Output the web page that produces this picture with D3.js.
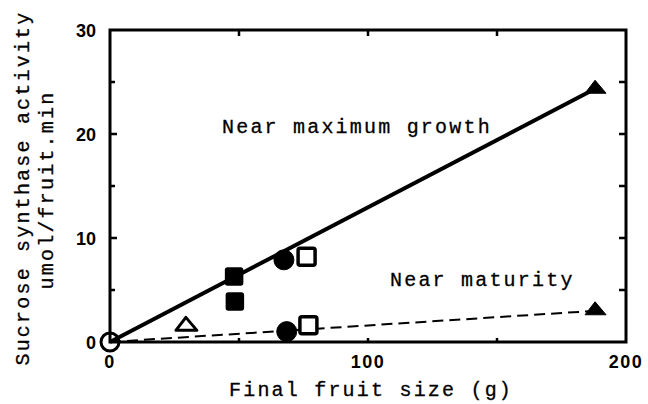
<!DOCTYPE html>
<html>
<head>
<script src="https://d3js.org/d3.v7.min.js"></script>
<style>
  body { margin: 0; background: #fff; }
  .mono { font-family: 'Liberation Mono', 'Courier New', monospace; font-size: 20px; letter-spacing: 2.2px; fill: #000; stroke: #000; stroke-width: 0.3px; }
  .tick-label { font-family: 'Liberation Sans', Arial, sans-serif; font-weight: bold; font-size: 18px; fill: #000; }
</style>
</head>
<body>
<div id="chart"></div>
<script>
// axis ticks
var xTicks = [0, 100, 200];
var yTicks = [0, 10, 20, 30];

// "near maximum growth" points (filled line)
var maxGrowthSolidSquares = [[48.1, 6.3], [48.4, 3.9]];
var maxGrowthSolidCircles = [[67.4, 7.9]];
var maxGrowthOpenSquares = [[76.2, 8.2]];
var maxGrowthTriangles = [[188.4, 24.4]];
var maxGrowthLine = [[0, 0], [188.4, 24.4]];

// "near maturity" points (dashed line)
var maturityOpenTriangles = [[29.8, 1.6]];
var maturitySolidCircles = [[68.5, 1.0]];
var maturityOpenSquares = [[76.9, 1.6]];
var maturityTriangles = [[188.4, 3.1]];
var maturityLine = [[0, 0], [188.4, 3.0]];

var originPoint = [[0, 0]];

var width = 648, height = 404;
var svg = d3.select("#chart").append("svg")
  .attr("width", width).attr("height", height);

var x = d3.scaleLinear().domain([0, 200]).range([110, 626]);
var y = d3.scaleLinear().domain([0, 30]).range([342, 30]);

// frame
svg.append("rect")
  .attr("x", x(0)).attr("y", y(30))
  .attr("width", x(200) - x(0)).attr("height", y(0) - y(30))
  .attr("fill", "none").attr("stroke", "#000").attr("stroke-width", 3);

// inward ticks
var g = svg.append("g").attr("stroke", "#000").attr("stroke-width", 2.5);
d3.range(5, 30, 5).forEach(function (v) {
  var len = v % 10 === 0 ? 7 : 5;
  g.append("line").attr("x1", x(0)).attr("x2", x(0) + len).attr("y1", y(v)).attr("y2", y(v));
  g.append("line").attr("x1", x(200)).attr("x2", x(200) - 7).attr("y1", y(v)).attr("y2", y(v));
});
[50, 100, 150].forEach(function (v) {
  g.append("line").attr("x1", x(v)).attr("x2", x(v)).attr("y1", y(30)).attr("y2", y(30) + 6);
  g.append("line").attr("x1", x(v)).attr("x2", x(v)).attr("y1", y(0)).attr("y2", y(0) - 4);
});

// tick labels
svg.selectAll(".ylab").data(yTicks).enter().append("text")
  .attr("class", "tick-label")
  .attr("x", 96).attr("y", function (d) { return y(d) + 7; })
  .attr("text-anchor", "end")
  .text(function (d) { return d; });
svg.selectAll(".xlab").data(xTicks).enter().append("text")
  .attr("class", "tick-label")
  .attr("x", function (d) { return x(d); }).attr("y", 368)
  .attr("text-anchor", "middle")
  .style("letter-spacing", "1.5px")
  .text(function (d) { return d; });

// axis titles
svg.append("text").attr("class", "mono")
  .attr("x", 229).attr("y", 396)
  .text("Final fruit size (g)");
svg.append("text").attr("class", "mono")
  .attr("transform", "translate(29,188) rotate(-90)")
  .attr("text-anchor", "middle")
  .text("Sucrose synthase activity");
svg.append("text").attr("class", "mono")
  .attr("transform", "translate(53,190) rotate(-90)")
  .attr("text-anchor", "middle")
  .text("umol/fruit.min");

// annotations
svg.append("text").attr("class", "mono").attr("x", 222).attr("y", 133).text("Near maximum growth");
svg.append("text").attr("class", "mono").attr("x", 390).attr("y", 286).text("Near maturity");

// lines
var line = d3.line().x(function (d) { return x(d[0]); }).y(function (d) { return y(d[1]); });
svg.append("path").datum(maxGrowthLine).attr("d", line)
  .attr("fill", "none").attr("stroke", "#000").attr("stroke-width", 4);
svg.append("path").datum(maturityLine).attr("d", line)
  .attr("fill", "none").attr("stroke", "#000").attr("stroke-width", 2)
  .attr("stroke-dasharray", "11,6");

// markers
function squares(data, filled) {
  svg.selectAll(null).data(data).enter().append("rect")
    .attr("x", function (d) { return x(d[0]) - 8.5; })
    .attr("y", function (d) { return y(d[1]) - 8.5; })
    .attr("width", 17).attr("height", 17).attr("rx", 2)
    .attr("fill", filled ? "#000" : "#fff")
    .attr("stroke", "#000").attr("stroke-width", filled ? 1.5 : 3.5);
}
function circles(data, filled, r) {
  svg.selectAll(null).data(data).enter().append("circle")
    .attr("cx", function (d) { return x(d[0]); })
    .attr("cy", function (d) { return y(d[1]); })
    .attr("r", r)
    .attr("fill", filled ? "#000" : "none")
    .attr("stroke", "#000").attr("stroke-width", filled ? 1 : 3);
}
function triangles(data, filled) {
  svg.selectAll(null).data(data).enter().append("path")
    .attr("d", function (d) {
      var cx = x(d[0]), cy = y(d[1]);
      return "M" + (cx - 1) + "," + (cy - 8) + "L" + (cx + 10) + "," + (cy + 5) +
        "L" + (cx - 11) + "," + (cy + 5) + "Z";
    })
    .attr("fill", filled ? "#000" : "#fff")
    .attr("stroke", "#000").attr("stroke-width", filled ? 1 : 3)
    .attr("stroke-linejoin", "round");
}

circles(originPoint, false, 9);
triangles(maturityOpenTriangles, false);
squares(maxGrowthSolidSquares, true);
circles(maxGrowthSolidCircles, true, 10);
squares(maxGrowthOpenSquares, false);
circles(maturitySolidCircles, true, 10);
squares(maturityOpenSquares, false);
triangles(maxGrowthTriangles, true);
triangles(maturityTriangles, true);
</script>
</body>
</html>
